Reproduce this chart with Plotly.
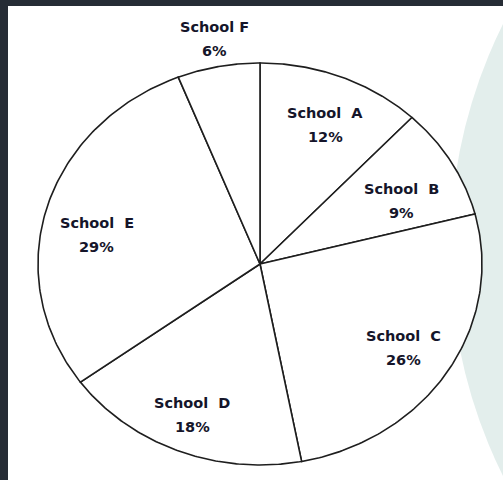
import numpy as np
import plotly.graph_objects as go

# ---- data ----
schools = ["School\u00a0\u00a0A", "School\u00a0\u00a0B", "School\u00a0\u00a0C",
           "School\u00a0\u00a0D", "School\u00a0\u00a0E", "School F"]
shares = [12, 9, 26, 18, 29, 6]
pct_labels = ["12%", "9%", "26%", "18%", "29%", "6%"]

# ---- style ----
label_radius = [0.75, 0.71, 0.77, 0.81, 0.75, 1.14]
label_angle_offset_deg = [1.5, 4.4, 0.5, 0.5, -5.0, 0.5]
W, H = 503, 480
CX, CY, RX, RY = 260, 264, 222, 201  # pixel centre / radii of the (stretched) pie

fig = go.Figure()

total = float(sum(shares))
cum = np.cumsum([0] + shares) / total * 2 * np.pi  # clockwise from top
annotations = []
font = dict(family="DejaVu Sans", size=14.5, color="#15152a")
for i, name in enumerate(schools):
    t = np.linspace(cum[i], cum[i + 1], 120)
    xs = np.concatenate([[0], np.sin(t), [0]])
    ys = np.concatenate([[0], np.cos(t), [0]])
    fig.add_trace(go.Scatter(
        x=xs, y=ys, mode="lines", fill="toself", fillcolor="white",
        line=dict(color="#1e1e1e", width=1.6), hoverinfo="skip", showlegend=False))
    mid = (cum[i] + cum[i + 1]) / 2 + np.deg2rad(label_angle_offset_deg[i])
    r = label_radius[i]
    lx, ly = r * np.sin(mid), r * np.cos(mid)
    annotations.append(dict(x=lx, y=ly, xref="x", yref="y", yshift=12,
                            text=f"<b>{name}</b>", showarrow=False, font=font))
    annotations.append(dict(x=lx, y=ly, xref="x", yref="y", yshift=-12,
                            text=f"<b>{pct_labels[i]}</b>", showarrow=False, font=font))

x_span = W / RX
y_span = H / RY
x0 = -CX / RX
y1 = CY / RY

fig.update_layout(
    width=W, height=H,
    margin=dict(l=0, r=0, t=0, b=0),
    paper_bgcolor="white", plot_bgcolor="rgba(0,0,0,0)",
    xaxis=dict(range=[x0, x0 + x_span], visible=False, fixedrange=True),
    yaxis=dict(range=[y1 - y_span, y1], visible=False, fixedrange=True),
    annotations=annotations,
    shapes=[
        # faint background circle on the right
        dict(type="circle", xref="paper", yref="paper", layer="below",
             x0=(958 - 508) / W, x1=(958 + 508) / W,
             y0=1 - (250 + 508) / H, y1=1 - (250 - 508) / H,
             fillcolor="#e3eeec", line=dict(width=0)),
        # dark frame bands
        dict(type="rect", xref="paper", yref="paper", layer="above",
             x0=0, x1=8 / W, y0=0, y1=1, fillcolor="#262c35", line=dict(width=0)),
        dict(type="rect", xref="paper", yref="paper", layer="above",
             x0=0, x1=1, y0=1 - 6 / H, y1=1, fillcolor="#262c35", line=dict(width=0)),
    ],
)

fig.write_html("out.html", config={"displayModeBar": False},
               post_script="document.body.style.margin='0';document.body.style.overflow='hidden';")
